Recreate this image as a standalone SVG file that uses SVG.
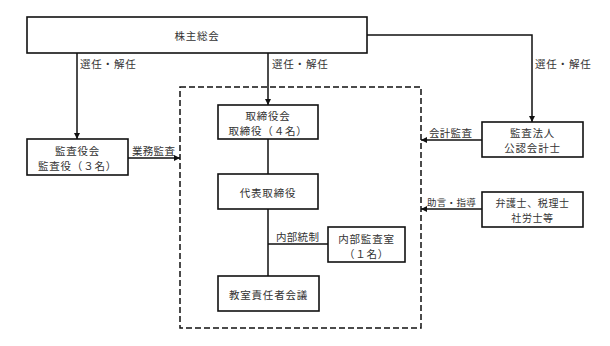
<svg xmlns="http://www.w3.org/2000/svg" width="610" height="346" viewBox="0 0 610 346">
<defs>
<marker id="ah" viewBox="0 0 6 6" refX="6" refY="3" markerWidth="6" markerHeight="6" markerUnits="userSpaceOnUse" orient="auto">
<path d="M0,0 L6,3 L0,6 z" fill="#111"/>
</marker>
<style>
.box{fill:#fff;stroke:#111;stroke-width:1.6}
.t{font-family:"Noto Sans CJK JP","Noto Sans",sans-serif;font-size:10.5px;fill:#333;letter-spacing:0.8px;dominant-baseline:central}
.c{text-anchor:middle}
.l{letter-spacing:0.3px}
.s{font-size:9.5px;letter-spacing:0.3px}
.n{font-size:10px;letter-spacing:0.6px}
.ln{fill:none;stroke:#111;stroke-width:1.5}
.arr{marker-end:url(#ah)}
</style>
</defs>
<rect width="610" height="346" fill="#fff"/>
<g id="board-area">
<rect x="180" y="87" width="241" height="241" fill="none" stroke="#111" stroke-width="1.5" stroke-dasharray="6,3"/>
</g>
<g id="connectors">
<path class="ln arr" d="M77,53 V139"/>
<path class="ln arr" d="M268,53 V105"/>
<path class="ln arr" d="M367,35 H532 V122"/>
<path class="ln arr" d="M128,158 H180"/>
<path class="ln arr" d="M482,140 H421"/>
<path class="ln arr" d="M482,209 H421"/>
<path class="ln" d="M268,139 V174 M268,209 V276 M268,244 H328"/>
<text class="t" x="80" y="63">選任・解任</text>
<text class="t" x="272" y="63">選任・解任</text>
<text class="t" x="535" y="63">選任・解任</text>
<text class="t l" x="132" y="150">業務監査</text>
<text class="t l" x="429" y="132">会計監査</text>
<text class="t s" x="427" y="202">助言・指導</text>
<text class="t l" x="276" y="236">内部統制</text>
</g>
<g id="shareholders">
<rect class="box" x="27" y="17" width="340" height="36"/>
<text class="t c" x="197" y="35">株主総会</text>
</g>
<g id="auditors-board">
<rect class="box" x="27" y="139" width="101" height="36"/>
<text class="t c" x="77.5" y="150">監査役会</text>
<text class="t c" x="77.5" y="165">監査役（３名）</text>
</g>
<g id="board">
<rect class="box" x="218" y="105" width="100" height="34"/>
<text class="t c" x="268" y="115">取締役会</text>
<text class="t c" x="268" y="130">取締役（４名）</text>
</g>
<g id="ceo">
<rect class="box" x="218" y="174" width="100" height="35"/>
<text class="t c" x="268" y="192">代表取締役</text>
</g>
<g id="internal-audit">
<rect class="box" x="328" y="227" width="77" height="35"/>
<text class="t c" x="366.5" y="238">内部監査室</text>
<text class="t c" x="366.5" y="253">（１名）</text>
</g>
<g id="school-meeting">
<rect class="box" x="218" y="276" width="101" height="35"/>
<text class="t c" x="268.5" y="294">教室責任者会議</text>
</g>
<g id="accountant">
<rect class="box" x="482" y="122" width="101" height="35"/>
<text class="t c" x="532.5" y="132">監査法人</text>
<text class="t c" x="532.5" y="147">公認会計士</text>
</g>
<g id="advisors">
<rect class="box" x="482" y="192" width="101" height="35"/>
<text class="t c n" x="532.5" y="202.5">弁護士、税理士</text>
<text class="t c n" x="532.5" y="217">社労士等</text>
</g>
</svg>
